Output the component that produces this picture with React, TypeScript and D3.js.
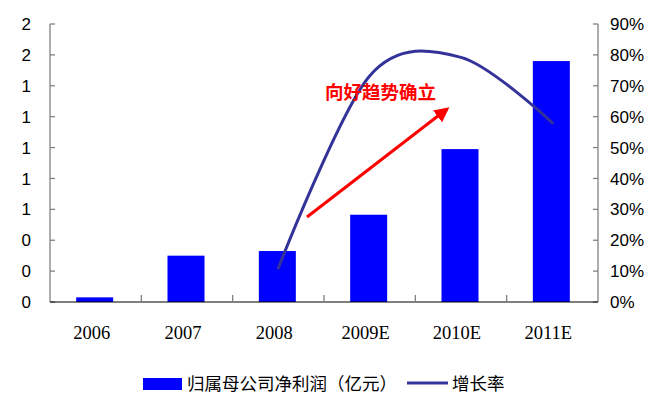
import React from "react";
import * as d3 from "d3";

const categories = ["2006", "2007", "2008", "2009E", "2010E", "2011E"];
const profit = [0.03, 0.3, 0.33, 0.565, 0.99, 1.56];
const growth: (number | null)[] = [null, null, 0.11, 0.732, 0.792, 0.58];
const leftTicks = [0, 0.2, 0.4, 0.6, 0.8, 1.0, 1.2, 1.4, 1.6, 1.8];
const leftTickLabels = ["0", "0", "0", "1", "1", "1", "1", "1", "2", "2"];
const rightTicks = [0, 0.1, 0.2, 0.3, 0.4, 0.5, 0.6, 0.7, 0.8, 0.9];
const rightTickLabels = ["0%", "10%", "20%", "30%", "40%", "50%", "60%", "70%", "80%", "90%"];
const legendBarLabel = "归属母公司净利润（亿元）";
const legendLineLabel = "增长率";
const annotation = "向好趋势确立";

export default function App() {
  const W = 649, H = 394;
  const x0 = 50, x1 = 598, yTop = 24, yBot = 302;
  const x = d3.scaleBand<string>().domain(categories).range([x0, x1]).paddingInner(0).paddingOuter(0);
  const yL = d3.scaleLinear().domain([0, 1.8]).range([yBot, yTop]);
  const yR = d3.scaleLinear().domain([0, 0.9]).range([yBot, yTop]);
  const bw = 37;
  const pts = categories
    .map((c, i) => ({ c, v: growth[i] }))
    .filter((d) => d.v !== null) as { c: string; v: number }[];
  const line = d3
    .line<{ c: string; v: number }>()
    .x((d) => (x(d.c) as number) + x.bandwidth() / 2)
    .y((d) => yR(d.v))
    .curve(d3.curveCardinal.tension(0.05));
  const axisGrey = "#777";
  const sans = "Liberation Sans, Arial, sans-serif";
  return (
    <svg width={W} height={H} style={{ position: "absolute", left: 0, top: 0, background: "#fff" }}>
      <defs>
        <marker id="ah" viewBox="0 0 10 10" refX="8" refY="5" markerWidth="5" markerHeight="5" orient="auto">
          <path d="M0,0 L10,5 L0,10 z" fill="#ff0000" />
        </marker>
      </defs>
      {/* bars */}
      {categories.map((c, i) => (
        <rect
          key={c}
          x={(x(c) as number) + x.bandwidth() / 2 - bw / 2 - 1}
          y={yL(profit[i])}
          width={bw}
          height={yBot - yL(profit[i])}
          fill="#0000ff"
        />
      ))}
      {/* left axis */}
      <line x1={x0} x2={x0} y1={yTop} y2={yBot} stroke={axisGrey} strokeWidth={1.2} />
      {leftTicks.map((t, i) => (
        <g key={"l" + i}>
          <line x1={x0} x2={x0 + 5} y1={yL(t)} y2={yL(t)} stroke={axisGrey} strokeWidth={1.2} />
          <text x={31} y={yL(t)} dy="0.36em" textAnchor="end" fontFamily={sans} fontSize={17} fill="#000">
            {leftTickLabels[i]}
          </text>
        </g>
      ))}
      {/* right axis */}
      <line x1={x1} x2={x1} y1={yTop} y2={yBot} stroke={axisGrey} strokeWidth={1.2} />
      {rightTicks.map((t, i) => (
        <g key={"r" + i}>
          <line x1={x1 - 5} x2={x1} y1={yR(t)} y2={yR(t)} stroke={axisGrey} strokeWidth={1.2} />
          <text x={610} y={yR(t)} dy="0.36em" textAnchor="start" fontFamily={sans} fontSize={17} fill="#000">
            {rightTickLabels[i]}
          </text>
        </g>
      ))}
      {/* bottom axis */}
      <line x1={x0} x2={x1} y1={yBot} y2={yBot} stroke="#000" strokeWidth={1.2} />
      {categories.slice(1).map((c) => (
        <line key={"t" + c} x1={x(c) as number} x2={x(c) as number} y1={yBot} y2={yBot - 7} stroke={axisGrey} strokeWidth={1.2} />
      ))}
      {categories.map((c) => (
        <text
          key={"x" + c}
          x={(x(c) as number) + x.bandwidth() / 2 - 4}
          y={339}
          textAnchor="middle"
          fontFamily="Liberation Serif, Times New Roman, serif"
          fontSize={18.5}
          fill="#000"
        >
          {c}
        </text>
      ))}
      {/* growth line */}
      <path d={line(pts) || ""} fill="none" stroke="#333399" strokeWidth={3} strokeLinecap="round" />
      {/* arrow */}
      <line x1={307} y1={217} x2={447} y2={109} stroke="#ff0000" strokeWidth={3} markerEnd="url(#ah)" />
      <text x={325} y={99} fontFamily="Noto Sans CJK SC, sans-serif" fontWeight="bold" fontSize={18.5} fill="#ff0000">
        {annotation}
      </text>
      {/* legend */}
      <rect x={143} y={378} width={39} height={12} fill="#0000ff" />
      <text x={187} y={384} dy="0.36em" fontFamily="Noto Sans CJK SC, sans-serif" fontSize={17.5} fill="#000">
        {legendBarLabel}
      </text>
      <line x1={407} x2={448} y1={383} y2={383} stroke="#333399" strokeWidth={3} />
      <text x={452} y={384} dy="0.36em" fontFamily="Noto Sans CJK SC, sans-serif" fontSize={17.5} fill="#000">
        {legendLineLabel}
      </text>
    </svg>
  );
}
